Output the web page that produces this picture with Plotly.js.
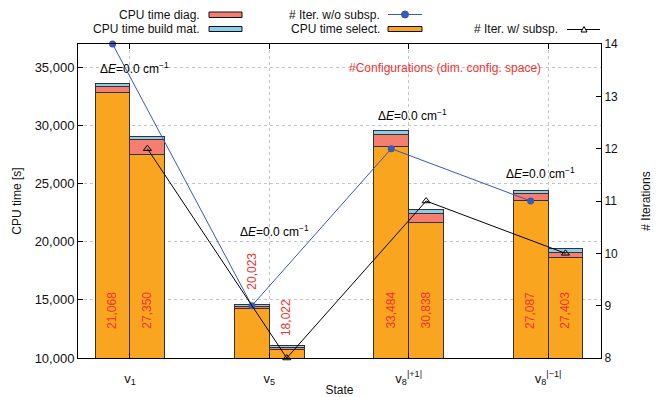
<!DOCTYPE html>
<html>
<head>
<meta charset="utf-8">
<script src="https://cdn.plot.ly/plotly-3.0.1.min.js"></script>
<style>html,body{margin:0;padding:0;background:#fff;}#chart{width:656px;height:397px;}</style>
</head>
<body>
<div id="chart"></div>
<script>
// ---- data ----
const states = ['v1', 'v5', 'v8|+1|', 'v8|-1|'];
const tickLabels = ['v<sub>1</sub>', 'v<sub>5</sub>', 'v<sub>8</sub><sup>|+1|</sup>', 'v<sub>8</sub><sup>|\u22121|</sup>'];
// bars per state: [w/o subsp., w/ subsp.]
const cpuSelect = [32810, 27500, 14270, 10750, 28210, 21620, 23510, 18680];
const cpuDiag   = [510, 1310, 200, 170, 980, 810, 640, 400];
const cpuBuild  = [260, 260, 140, 140, 400, 370, 280, 310];
const iterWithout = [14, 9, 12, 11];
const iterWith    = [12, 8, 11, 10];
const configs = [21068, 27350, 20023, 18022, 33484, 30838, 27087, 27403];
const deltaE = ['0.0', '0.0', '0.0', '0.0'];

// ---- layout helpers ----
const off = 0.125;
const barX = [];
states.forEach((s, i) => { barX.push(i - off, i + off); });
const xWithout = states.map((s, i) => i - off);
const xWith = states.map((s, i) => i + off);

const FONT = 'Liberation Sans, Arial, sans-serif';
const RED = '#f03434';
const C_SEL = '#f9a51f', C_DIAG = '#f47f70', C_BUILD = '#8ccdec', C_BLUE = '#3c58b8';
const BORDER = {color: '#333333', width: 1};
const GRID = '#c4c4c4';

const traces = [
  {type: 'bar', x: barX, y: cpuSelect, width: 0.25, marker: {color: C_SEL, line: BORDER}, name: 'CPU time select.', showlegend: false},
  {type: 'bar', x: barX, y: cpuDiag, width: 0.25, marker: {color: C_DIAG, line: BORDER}, name: 'CPU time diag.', showlegend: false},
  {type: 'bar', x: barX, y: cpuBuild, width: 0.25, marker: {color: C_BUILD, line: BORDER}, name: 'CPU time build mat.', showlegend: false},
  {type: 'scatter', mode: 'lines+markers', x: xWithout, y: iterWithout, yaxis: 'y2', cliponaxis: false,
   line: {color: C_BLUE, width: 1}, marker: {color: C_BLUE, size: 7, symbol: 'circle'}, name: '# Iter. w/o subsp.', showlegend: false},
  {type: 'scatter', mode: 'lines+markers', x: xWith, y: iterWith, yaxis: 'y2', cliponaxis: false,
   line: {color: '#000', width: 1}, marker: {color: '#000', size: 7, symbol: 'triangle-up-open', line: {width: 1, color: '#000'}}, name: '# Iter. w/ subsp.', showlegend: false}
];

// annotation placement (data coords)
const cfgY = [14100, 14100, 17500, 13500, 14100, 14100, 14100, 14100];
const dEpos = [[0.03, 34900], [1.035, 20900], [2.025, 30880], [2.945, 25890]];

const annotations = [];
configs.forEach((c, k) => {
  annotations.push({x: barX[k], y: cfgY[k], xref: 'x', yref: 'y', text: c.toLocaleString('en-US'),
    textangle: -90, showarrow: false, font: {family: FONT, size: 12, color: RED}});
});
deltaE.forEach((d, i) => {
  annotations.push({x: dEpos[i][0], y: dEpos[i][1], xref: 'x', yref: 'y',
    text: '\u0394<i>E</i>=' + d + ' cm<sup>\u22121</sup>', showarrow: false, font: {family: FONT, size: 12, color: '#000'}});
});
annotations.push({x: 2.26, y: 34900, xref: 'x', yref: 'y', text: '#Configurations (dim. config. space)',
  showarrow: false, font: {family: FONT, size: 12, color: RED}});

// custom gnuplot-style key (paper coords)
const L = 78, W = 523, B = 358, H = 314;
const px = v => (v - L) / W, py = v => (B - v) / H;
const keyText = [
  ['CPU time diag.', 202, 14.5], ['CPU time build mat.', 202, 29],
  ['# Iter. w/o subsp.', 382, 14.5], ['CPU time select.', 382, 29], ['# Iter. w/ subsp.', 560, 29.5]
];
keyText.forEach(t => annotations.push({x: px(t[1]), y: py(t[2]), xref: 'paper', yref: 'paper', xanchor: 'right', yanchor: 'middle',
  text: t[0], showarrow: false, font: {family: FONT, size: 12, color: '#111'}}));

const shapes = [
  {type: 'rect', xref: 'paper', yref: 'paper', x0: px(209), x1: px(242), y0: py(17.5), y1: py(12), fillcolor: C_DIAG, line: {color: '#111', width: 1}},
  {type: 'rect', xref: 'paper', yref: 'paper', x0: px(209), x1: px(242), y0: py(31.5), y1: py(26.5), fillcolor: C_BUILD, line: {color: '#111', width: 1}},
  {type: 'rect', xref: 'paper', yref: 'paper', x0: px(388), x1: px(422), y0: py(31.5), y1: py(26.5), fillcolor: C_SEL, line: {color: '#111', width: 1}},
  {type: 'line', xref: 'paper', yref: 'paper', x0: px(388), x1: px(422), y0: py(14.5), y1: py(14.5), line: {color: C_BLUE, width: 1}},
  {type: 'circle', xref: 'paper', yref: 'paper', x0: px(401.5), x1: px(408.5), y0: py(18), y1: py(11), fillcolor: C_BLUE, line: {color: C_BLUE, width: 1}},
  {type: 'line', xref: 'paper', yref: 'paper', x0: px(567), x1: px(600), y0: py(29.5), y1: py(29.5), line: {color: '#000', width: 1}},
  {type: 'path', xref: 'paper', yref: 'paper',
   path: 'M' + px(581) + ',' + py(32) + ' L' + px(587) + ',' + py(32) + ' L' + px(584) + ',' + py(26.5) + ' Z',
   fillcolor: '#fff', line: {color: '#000', width: 1}}
];

const layout = {
  width: 656, height: 397,
  margin: {l: 78, r: 55, t: 44, b: 39, pad: 0},
  paper_bgcolor: '#fff', plot_bgcolor: '#fff',
  font: {family: FONT, size: 12, color: '#111'},
  barmode: 'stack', bargap: 0,
  showlegend: false,
  xaxis: {range: [-0.373, 3.38], tickvals: [0, 1, 2, 3], ticktext: tickLabels, showgrid: true, gridcolor: GRID, griddash: 'dot', gridwidth: 1,
    zeroline: false, showline: true, linecolor: '#000', linewidth: 1, mirror: 'ticks', ticks: 'inside', ticklen: 5, tickcolor: '#000',
    ticklabelstandoff: 8,
    tickfont: {family: FONT, size: 13, color: '#111'}, title: {text: 'State', standoff: 7, font: {family: FONT, size: 12, color: '#111'}}},
  yaxis: {range: [10000, 37000], tickvals: [10000, 15000, 20000, 25000, 30000, 35000], tickformat: ',d', showgrid: true, gridcolor: GRID, griddash: 'dot', gridwidth: 1,
    zeroline: false, showline: true, linecolor: '#000', linewidth: 1, ticks: 'inside', ticklen: 5, tickcolor: '#000',
    tickfont: {family: FONT, size: 13, color: '#111'}, title: {text: 'CPU time [s]', standoff: 10, font: {family: FONT, size: 12, color: '#111'}}},
  yaxis2: {overlaying: 'y', side: 'right', range: [8, 14], dtick: 1, showgrid: false, zeroline: false, showline: true, linecolor: '#000', linewidth: 1,
    ticks: 'inside', ticklen: 5, tickcolor: '#000', tickfont: {family: FONT, size: 12, color: '#111'},
    title: {text: '# Iterations', standoff: 24, font: {family: FONT, size: 12, color: '#111'}}},
  annotations: annotations,
  shapes: shapes
};

Plotly.newPlot('chart', traces, layout, {displayModeBar: false, staticPlot: true});
</script>
</body>
</html>
